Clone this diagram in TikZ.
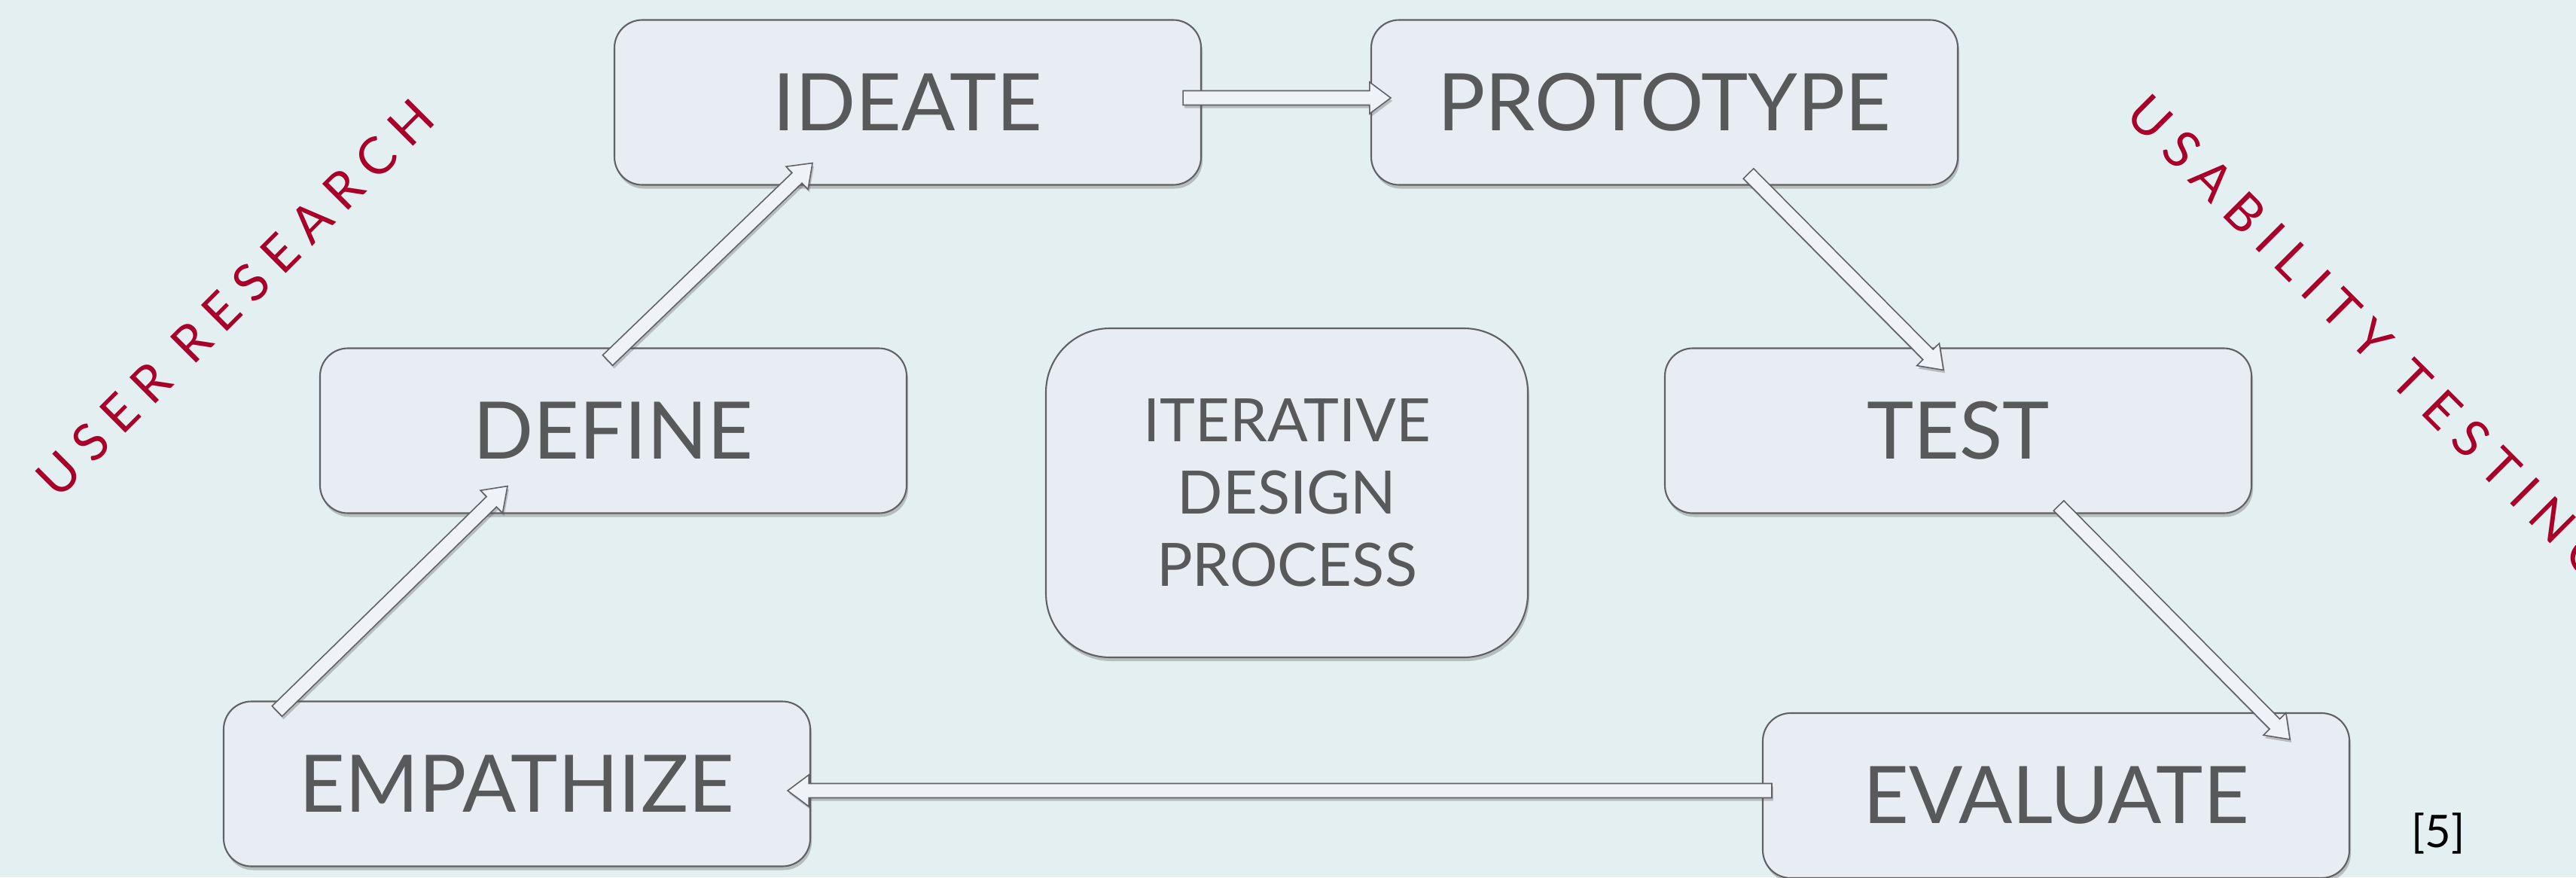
\documentclass[tikz,border=0pt]{standalone}
\usepackage{fontspec}
\setmainfont{Lato}
\definecolor{BgBlue}{RGB}{227, 239, 241}
\definecolor{BoxFill}{RGB}{232, 236, 243}
\definecolor{BoxLine}{RGB}{96, 97, 99}
\definecolor{TextGray}{RGB}{88, 89, 91}
\definecolor{LabelRed}{RGB}{168, 0, 40}
\usetikzlibrary{calc, positioning, shadows}

\begin{document}
\begin{tikzpicture}[
	stage/.style={rectangle, rounded corners=0.37cm, draw=BoxLine, line width=0.6pt, fill=BoxFill,
		text=TextGray, minimum width=7.79cm, minimum height=2.19cm, font=\fontsize{30}{36}\selectfont,
		drop shadow={shadow xshift=0.02cm, shadow yshift=-0.05cm, opacity=0.3, fill=black!70}},
	hub/.style={stage, rounded corners=0.85cm, minimum width=6.4cm, minimum height=4.37cm,
		align=center, font=\fontsize{22.6}{27.3}\selectfont},
	lbl/.style={text=LabelRed, inner sep=0pt, anchor=west,
		font=\fontsize{19.4}{22}\selectfont\addfontfeature{LetterSpace=24}},
	blk/.style={draw=BoxLine, line width=0.45pt, fill=BoxFill!70!white,
		drop shadow={shadow xshift=0.02cm, shadow yshift=-0.04cm, opacity=0.3, fill=black!70},
		to path={let \p1=(\tikztostart), \p2=(\tikztotarget),
			\n1={atan2(\y2-\y1,\x2-\x1)}, \n2={veclen(\x2-\x1,\y2-\y1)} in
			($(\p1)+(\n1+90:0.095)$) -- ($(\p1)+(\n1:\n2-8pt)+(\n1+90:0.095)$)
			-- ($(\p1)+(\n1:\n2-8pt)+(\n1+90:0.21)$) -- (\p2)
			-- ($(\p1)+(\n1:\n2-8pt)+(\n1-90:0.21)$) -- ($(\p1)+(\n1:\n2-8pt)+(\n1-90:0.095)$)
			-- ($(\p1)+(\n1-90:0.095)$) -- cycle}}]
	\useasboundingbox (0,0) rectangle (34.21,11.65);
	\clip (0,0) rectangle (34.21,11.65);
	\fill[BgBlue] (0,0) rectangle (34.21,11.65);
	% stages of the cycle
	\node[stage] (ideate) at (12.055,10.29) {IDEATE};
	\node[stage] (prototype) at (22.105,10.29) {PROTOTYPE};
	\node[stage] (define) at (8.145,5.93) {DEFINE};
	\node[stage] (test) at (26.005,5.93) {TEST};
	\node[stage] (empathize) at (6.865,1.24) {EMPATHIZE};
	\node[stage] (evaluate) at (27.305,1.085) {EVALUATE};
	\node[hub] (process) at (17.09,5.105) {ITERATIVE\\DESIGN\\PROCESS};
	% block arrows
	\draw[blk] ($(empathize.north west)+(0.72,-0.14)$) to ($(define.south)+(-1.405,0.37)$);
	\draw[blk] ($(define.north)+(-0.075,-0.17)$) to ($(ideate.south)+(-1.265,0.30)$);
	\draw[blk] ($(ideate.east)+(-0.25,0.06)$) to ($(prototype.west)+(0.27,0.06)$);
	\draw[blk] ($(prototype.south)+(1.115,0.16)$) to ($(test.north)+(-0.195,-0.30)$);
	\draw[blk] ($(test.south)+(1.335,0.11)$) to ($(evaluate.north east)+(-0.80,-0.36)$);
	\draw[blk] ($(evaluate.west)+(0.13,0.065)$) to ($(empathize.east)+(-0.31,-0.09)$);
	% side labels
	\node[lbl, rotate=45] (research) at (0.60,5.17) {USER RESEARCH};
	\node[lbl, rotate=-45] (usability) at (28.37,10.27) {USABILITY TESTING};
	\node[font=\fontsize{17}{20}\selectfont] (cite) at (32.38,0.58) {[5]};
\end{tikzpicture}
\end{document}
